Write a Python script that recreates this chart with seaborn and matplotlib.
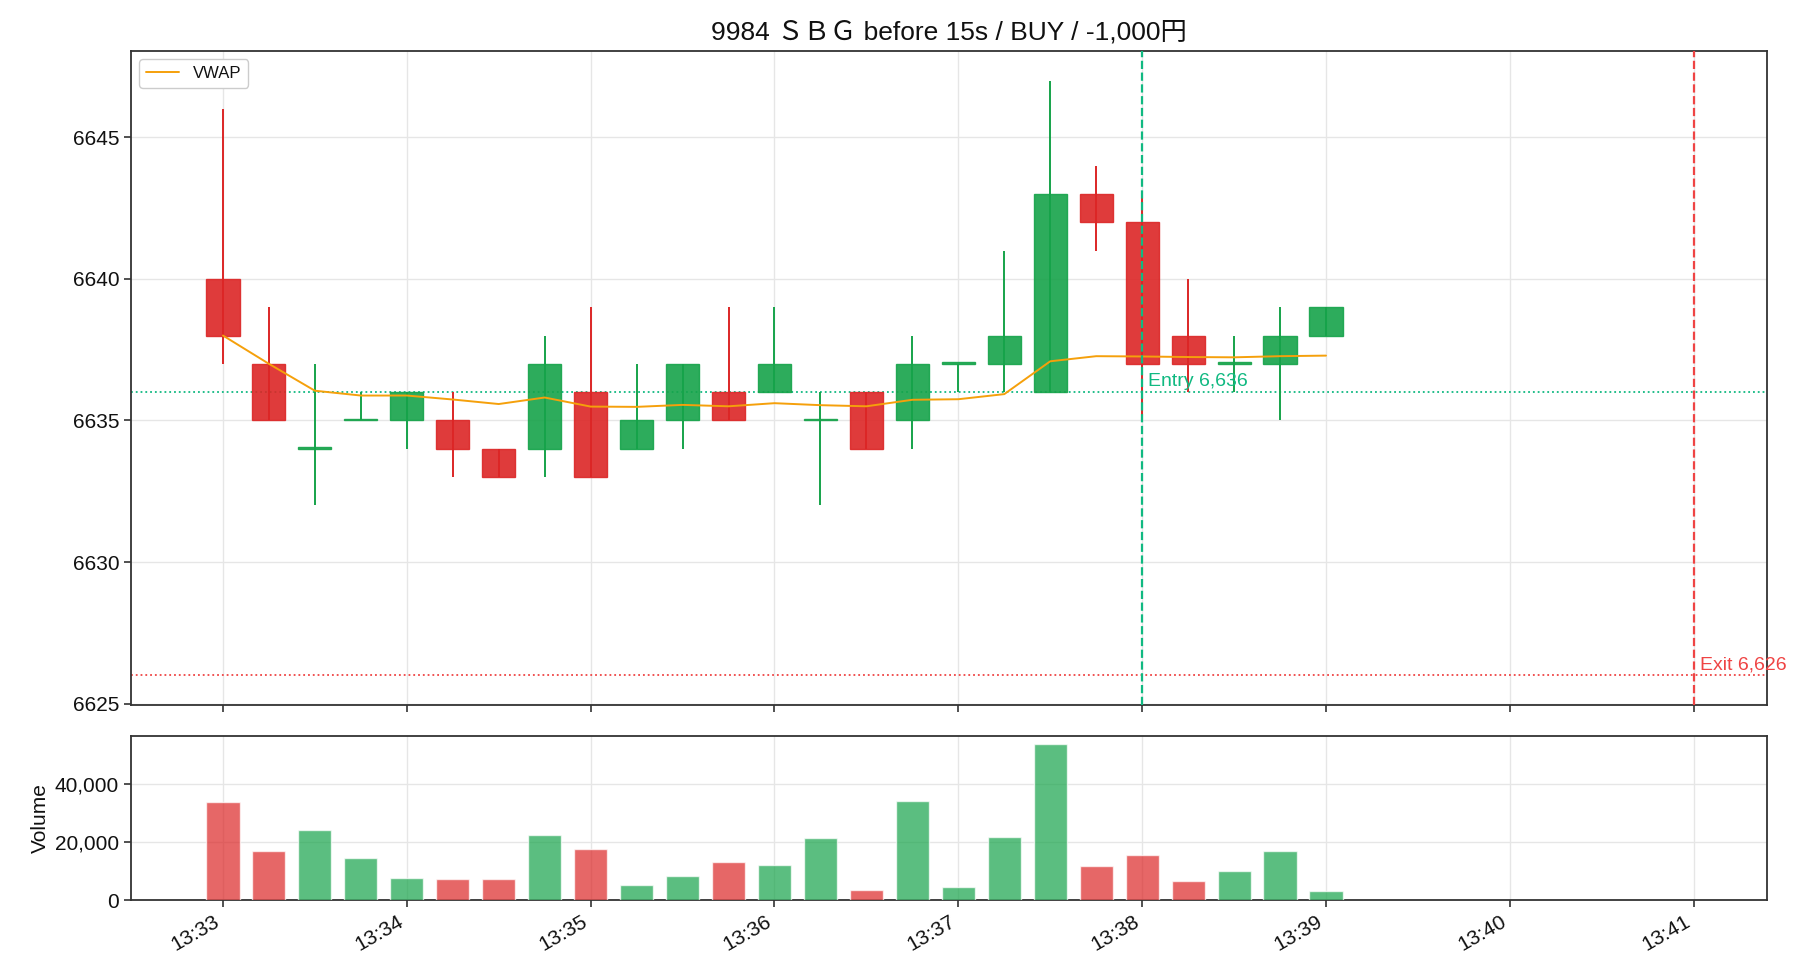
import numpy as np
import pandas as pd
import matplotlib
matplotlib.use("Agg")
import matplotlib.pyplot as plt
import matplotlib.dates as mdates
from matplotlib.ticker import FuncFormatter
import seaborn as sns

# ---- data ----
times = ["13:33:00", "13:33:15", "13:33:30", "13:33:45", "13:34:00", "13:34:15", "13:34:30",
         "13:34:45", "13:35:00", "13:35:15", "13:35:30", "13:35:45", "13:36:00", "13:36:15",
         "13:36:30", "13:36:45", "13:37:00", "13:37:15", "13:37:30", "13:37:45", "13:38:00",
         "13:38:15", "13:38:30", "13:38:45", "13:39:00"]
opens = [6640, 6637, 6634, 6635, 6635, 6635, 6634, 6634, 6636, 6634, 6635, 6636, 6636, 6635,
         6636, 6635, 6637, 6637, 6636, 6643, 6642, 6638, 6637, 6637, 6638]
highs = [6646, 6639, 6637, 6636, 6636, 6636, 6634, 6638, 6639, 6637, 6637, 6639, 6639, 6636,
         6636, 6638, 6637, 6641, 6647, 6644, 6643, 6640, 6638, 6639, 6639]
lows = [6637, 6635, 6632, 6635, 6634, 6633, 6633, 6633, 6633, 6634, 6634, 6635, 6636, 6632,
        6634, 6634, 6636, 6636, 6636, 6641, 6635, 6636, 6636, 6635, 6638]
closes = [6638, 6635, 6634, 6635, 6636, 6634, 6633, 6637, 6633, 6635, 6637, 6635, 6637, 6635,
          6634, 6637, 6637, 6638, 6643, 6642, 6637, 6637, 6637, 6638, 6639]
volumes = [34000, 16900, 24200, 14500, 7600, 7250, 7250, 22400, 17600, 5200, 8300, 13100, 12100,
           21400, 3450, 34200, 4500, 21700, 53800, 11700, 15500, 6550, 10000, 16900, 3100]
vwap = [6638.0, 6637.0, 6636.05, 6635.88, 6635.88, 6635.74, 6635.58, 6635.81, 6635.49, 6635.48,
        6635.55, 6635.5, 6635.61, 6635.54, 6635.5, 6635.73, 6635.75, 6635.93, 6637.09, 6637.27,
        6637.26, 6637.24, 6637.23, 6637.27, 6637.29]

title = "9984 ＳＢＧ before 15s / BUY / -1,000円"
entry_time, entry_price = "13:38:00", 6636
exit_time, exit_price = "13:41:00", 6626
entry_label = "Entry 6,636"
exit_label = "Exit 6,626"

# ---- styling ----
sns.set_theme(style="ticks")
plt.rcParams["font.family"] = ["Liberation Sans", "Noto Sans CJK JP", "DejaVu Sans"]
plt.rcParams["axes.unicode_minus"] = False
for k in ("text.color", "axes.labelcolor", "xtick.labelcolor", "ytick.labelcolor"):
    plt.rcParams[k] = "#111111"

RED = "#dc2626"
GREEN = "#16a34a"
ENTRY_C = "#10b981"
EXIT_C = "#ef4444"
VWAP_C = "#f5a00b"

day = "2024-01-01 "
t = pd.to_datetime([day + s for s in times])
x = mdates.date2num(t)
ex_entry = mdates.date2num(pd.Timestamp(day + entry_time))
ex_exit = mdates.date2num(pd.Timestamp(day + exit_time))
sec = 1.0 / 86400.0

df = pd.DataFrame({"time": t, "open": opens, "high": highs, "low": lows,
                   "close": closes, "volume": volumes, "vwap": vwap})
up = df["close"] >= df["open"]
colors = [GREEN if u else RED for u in up]

fig = plt.figure(figsize=(18.2, 9.8), dpi=100)
ax = fig.add_axes([0.072, 0.2806, 0.899, 0.6674])
axv = fig.add_axes([0.072, 0.0816, 0.899, 0.1673], sharex=ax)

width = 10.8 * sec
# wicks
ax.vlines(x, df["low"], df["high"], colors=colors, linewidth=1.4, zorder=2)
# bodies
body_bottom = np.minimum(df["open"], df["close"])
body_h = np.maximum(np.abs(df["close"] - df["open"]), 0.06)
ax.bar(x, body_h, width=width, bottom=body_bottom, color=colors, alpha=0.9,
       edgecolor=colors, linewidth=1.0, zorder=3)

# VWAP via seaborn
sns.lineplot(x=x, y=df["vwap"].values, ax=ax, color=VWAP_C, linewidth=1.4,
             label="VWAP", zorder=4)

# entry / exit markers
ax.axhline(entry_price, color=ENTRY_C, linestyle=":", linewidth=1.3, zorder=1)
ax.axvline(ex_entry, color=ENTRY_C, linestyle="--", linewidth=1.6, zorder=5)
ax.axhline(exit_price, color=EXIT_C, linestyle=":", linewidth=1.3, zorder=1)
ax.axvline(ex_exit, color=EXIT_C, linestyle="--", linewidth=1.6, zorder=5)
ax.text(ex_entry + 2 * sec, entry_price + 0.08, entry_label, color=ENTRY_C,
        fontsize=14, va="bottom", ha="left", zorder=6)
ax.text(ex_exit + 2 * sec, exit_price + 0.08, exit_label, color=EXIT_C,
        fontsize=14, va="bottom", ha="left", clip_on=False, zorder=6)

ax.set_ylim(6624.95, 6648.05)
ax.set_yticks([6625, 6630, 6635, 6640, 6645])
ax.set_title(title, fontsize=19, pad=8)
ax.grid(True, color="#e6e6e6", linewidth=1.0)
ax.set_axisbelow(True)
ax.set_xlabel("")
ax.set_ylabel("")
ax.tick_params(axis="x", labelbottom=False)
ax.legend(loc="upper left", fontsize=12, frameon=True, fancybox=True,
          edgecolor="#cccccc", framealpha=1.0)

# volume
axv.bar(x, df["volume"], width=width, color=colors, alpha=0.7, zorder=3)
axv.set_ylim(0, 56700)
axv.set_yticks([0, 20000, 40000])
axv.yaxis.set_major_formatter(FuncFormatter(lambda v, p: f"{int(v):,}"))
axv.set_ylabel("Volume", fontsize=15)
axv.grid(True, color="#e6e6e6", linewidth=1.0)
axv.set_axisbelow(True)

xmin = mdates.date2num(pd.Timestamp(day + "13:32:30"))
xmax = mdates.date2num(pd.Timestamp(day + "13:41:24"))
ax.set_xlim(xmin, xmax)
axv.xaxis.set_major_locator(mdates.MinuteLocator())
axv.xaxis.set_major_formatter(mdates.DateFormatter("%H:%M"))
for lab in axv.get_xticklabels():
    lab.set_rotation(30)
    lab.set_ha("right")

for a in (ax, axv):
    for s in a.spines.values():
        s.set_color("#333333")
        s.set_linewidth(1.3)
    a.tick_params(labelsize=15, length=5, width=1.2, color="#333333")

fig.savefig("out.png", dpi=100)
